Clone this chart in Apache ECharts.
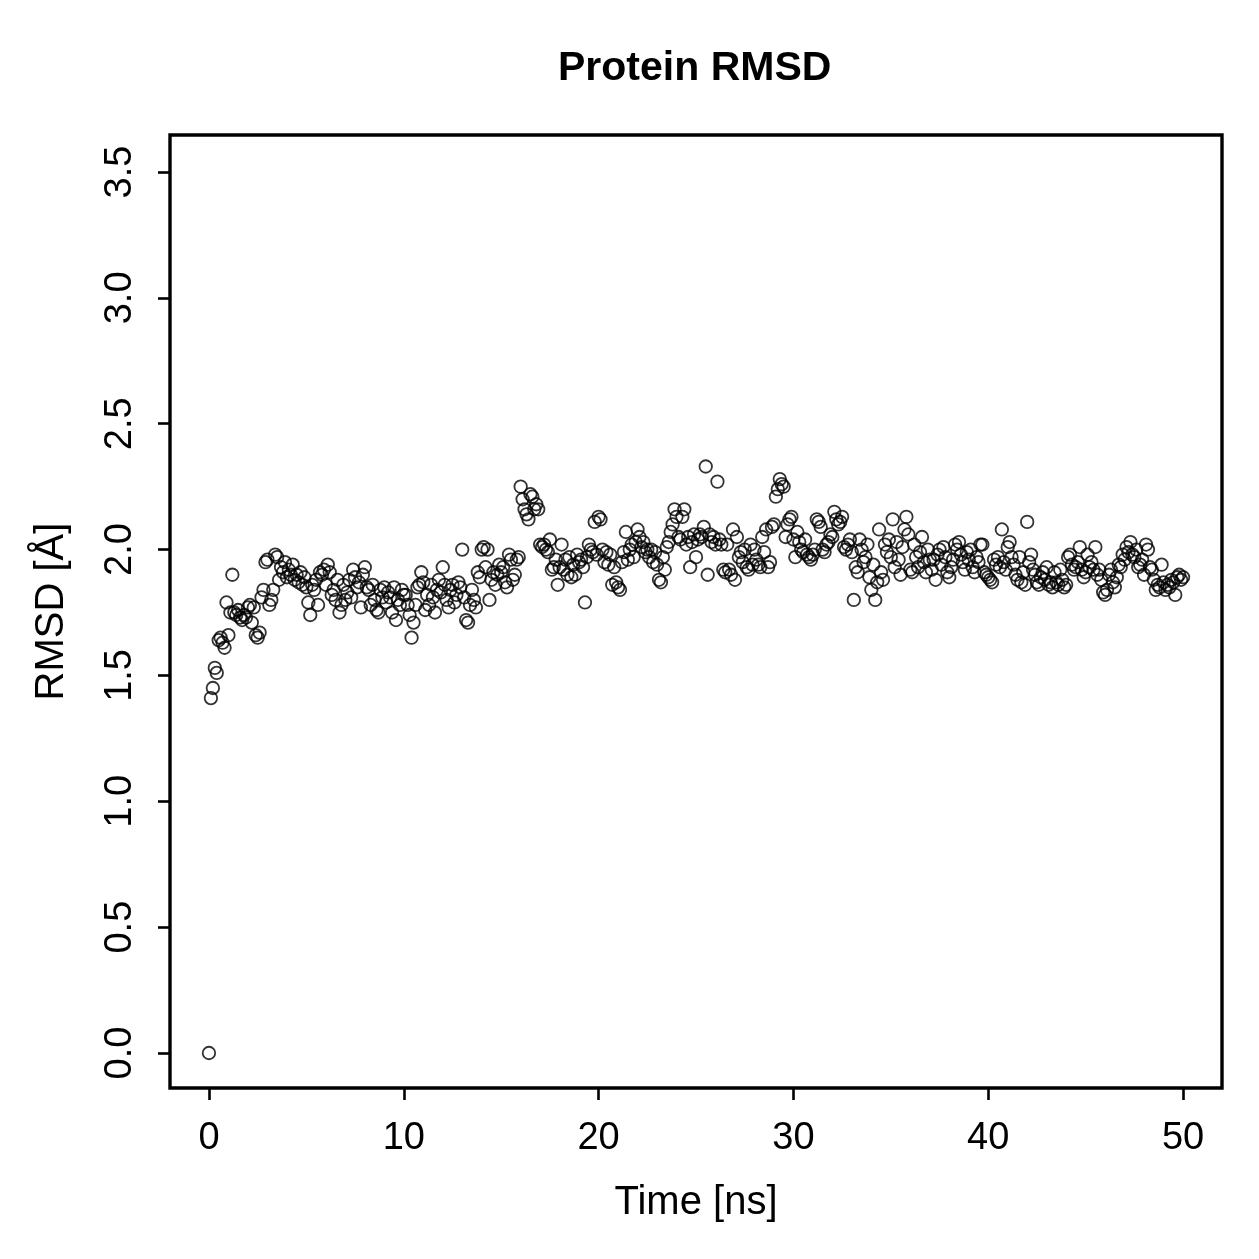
<!DOCTYPE html>
<html>
<head>
<meta charset="utf-8">
<script src="https://cdn.jsdelivr.net/npm/echarts@6/dist/echarts.min.js"></script>
<style>html,body{margin:0;padding:0;background:#fff}#c{width:1259px;height:1259px}</style>
</head>
<body>
<div id="c"></div>
<script>
// Time step (ns) between frames
var timeStep = 0.1;
var xTicks = [0, 10, 20, 30, 40, 50];
var yTicks = [0, 0.5, 1.0, 1.5, 2.0, 2.5, 3.0, 3.5];
// RMSD values (Å), frame 0 then ten frames per ns
var rmsd0 = [0.00];
var rmsd_00_05 = [
  1.41,1.45,1.53,1.51,1.64,1.65,1.63,1.61,1.79,1.66,
  1.75,1.90,1.75,1.74,1.76,1.73,1.72,1.74,1.73,1.77,
  1.78,1.71,1.77,1.66,1.65,1.67,1.81,1.84,1.95,1.96,
  1.78,1.80,1.84,1.98,1.97,1.88,1.93,1.91,1.95,1.89,
  1.92,1.90,1.94,1.88,1.90,1.87,1.91,1.86,1.89,1.85
];
var rmsd_05_10 = [
  1.79,1.74,1.86,1.84,1.88,1.78,1.91,1.90,1.92,1.86,
  1.94,1.91,1.82,1.84,1.80,1.88,1.75,1.78,1.86,1.80,
  1.83,1.88,1.81,1.92,1.89,1.85,1.87,1.77,1.90,1.93,
  1.85,1.84,1.78,1.86,1.80,1.76,1.75,1.84,1.81,1.85,
  1.79,1.83,1.81,1.75,1.85,1.72,1.80,1.78,1.84,1.82
];
var rmsd_10_15 = [
  1.82,1.78,1.74,1.65,1.71,1.78,1.85,1.86,1.91,1.87,
  1.76,1.82,1.78,1.86,1.81,1.75,1.84,1.88,1.83,1.93,
  1.86,1.80,1.77,1.84,1.86,1.79,1.82,1.87,1.85,2.00,
  1.81,1.72,1.71,1.78,1.84,1.80,1.77,1.91,1.89,2.00,
  2.01,1.93,2.00,1.80,1.88,1.91,1.86,1.90,1.94,1.91
];
var rmsd_15_20 = [
  1.93,1.87,1.85,1.98,1.96,1.88,1.90,1.96,1.97,2.25,
  2.20,2.16,2.14,2.12,2.22,2.21,2.16,2.18,2.16,2.02,
  2.01,2.02,2.00,1.99,2.04,1.92,1.93,1.96,1.86,1.93,
  2.02,1.92,1.96,1.90,1.97,1.89,1.94,1.90,1.98,1.95,
  1.96,1.93,1.79,1.97,2.02,2.00,1.99,2.11,1.98,2.13
];
var rmsd_20_25 = [
  2.12,2.00,1.95,1.99,1.94,1.98,1.86,1.93,1.87,1.85,
  1.84,1.95,1.99,2.07,1.96,2.00,2.02,1.97,2.03,2.08,
  2.05,2.01,2.03,1.99,2.00,1.97,2.00,1.95,1.99,1.94,
  1.88,1.87,1.97,1.92,2.01,2.03,2.07,2.10,2.16,2.13,
  2.05,2.04,2.13,2.16,2.02,2.05,1.93,2.03,2.06,1.97
];
var rmsd_25_30 = [
  2.04,2.06,2.05,2.09,2.33,1.90,2.06,2.03,2.05,2.02,
  2.27,2.04,2.02,1.92,1.91,2.02,1.92,1.90,2.08,1.88,
  2.05,1.97,1.99,1.95,2.00,1.93,1.92,2.02,1.94,2.00,
  1.96,1.94,1.93,2.05,1.99,2.08,1.93,1.95,2.09,2.10,
  2.21,2.24,2.28,2.26,2.25,2.05,2.10,2.12,2.13,2.04
];
var rmsd_30_35 = [
  1.97,2.07,2.03,2.00,1.99,2.04,1.98,1.97,1.96,1.98,
  2.00,2.12,2.11,2.09,2.00,1.99,2.02,2.03,2.06,2.05,
  2.15,2.12,2.10,2.11,2.13,2.01,2.00,2.02,2.04,1.99,
  1.80,1.93,1.91,2.04,2.00,1.95,1.97,2.02,1.89,1.84,
  1.94,1.80,1.87,2.08,1.91,1.88,2.02,1.99,2.04,1.97
];
var rmsd_35_40 = [
  2.12,1.93,2.03,1.96,1.90,2.01,2.08,2.13,2.06,1.92,
  1.91,2.02,1.97,1.93,1.99,2.05,1.95,1.91,2.00,1.96,
  1.92,1.96,1.88,1.98,2.00,1.94,2.01,1.97,1.91,1.89,
  1.93,1.96,2.02,2.00,2.03,1.98,1.95,1.92,1.99,1.96,
  2.00,1.93,1.91,1.97,1.95,2.02,2.02,1.91,1.90,1.89
];
var rmsd_40_45 = [
  1.88,1.87,1.96,1.94,1.97,1.93,2.08,1.95,1.92,2.01,
  2.03,1.97,1.94,1.90,1.88,1.97,1.87,1.91,1.86,2.11,
  1.95,1.98,1.92,1.90,1.87,1.86,1.89,1.91,1.88,1.93,
  1.86,1.87,1.85,1.91,1.87,1.86,1.92,1.88,1.85,1.86,
  1.97,1.98,1.94,1.92,1.93,1.95,2.01,1.92,1.89,1.91
];
var rmsd_45_50 = [
  1.98,1.93,1.95,1.92,2.01,1.90,1.92,1.88,1.83,1.82,
  1.84,1.90,1.92,1.87,1.85,1.89,1.94,1.93,1.98,1.96,
  2.01,1.99,2.03,1.98,1.97,2.00,1.93,1.94,1.96,1.90,
  2.02,2.00,1.93,1.92,1.88,1.84,1.86,1.85,1.94,1.87,
  1.84,1.86,1.85,1.88,1.87,1.82,1.89,1.90,1.88,1.89
];

var rmsd = [].concat(rmsd0, rmsd_00_05, rmsd_05_10, rmsd_10_15, rmsd_15_20,
  rmsd_20_25, rmsd_25_30, rmsd_30_35, rmsd_35_40, rmsd_40_45, rmsd_45_50);
var points = rmsd.map(function (v, i) { return [+(i * timeStep).toFixed(1), v]; });

var FONT = '"Liberation Sans", Arial, Helvetica, sans-serif';
var chart = echarts.init(document.getElementById('c'), null, {renderer: 'canvas'});
chart.setOption({
  backgroundColor: '#fff',
  animation: false,
  graphic: [{
    type: 'text', left: 696 - 138, top: 48, silent: true,
    style: {text: 'Protein RMSD', x: 0, y: 0, fill: '#000',
      font: 'bold 41px ' + FONT}
  }],
  grid: {
    left: 170, right: 37, top: 135, bottom: 171,
    show: true, borderColor: '#000', borderWidth: 3.4, backgroundColor: 'transparent'
  },
  xAxis: {
    type: 'value', min: -2, max: 52,
    name: 'Time [ns]', nameLocation: 'middle', nameGap: 95,
    nameTextStyle: {fontFamily: FONT, fontSize: 40, color: '#000'},
    axisLine: {show: false, onZero: false},
    splitLine: {show: false},
    axisTick: {show: true, inside: false, length: 12, customValues: xTicks,
      lineStyle: {color: '#000', width: 2.6}},
    axisLabel: {show: true, customValues: xTicks, margin: 32,
      fontFamily: FONT, fontSize: 38, color: '#000'}
  },
  yAxis: {
    type: 'value', min: -0.139, max: 3.647,
    name: 'RMSD [Å]', nameLocation: 'middle', nameGap: 98, nameRotate: 90,
    nameTextStyle: {fontFamily: FONT, fontSize: 40, color: '#000'},
    axisLine: {show: false, onZero: false},
    splitLine: {show: false},
    axisTick: {show: true, inside: false, length: 12, customValues: yTicks,
      lineStyle: {color: '#000', width: 2.6}},
    axisLabel: {show: true, customValues: yTicks, rotate: 90, margin: 30,
      fontFamily: FONT, fontSize: 38, color: '#000',
      formatter: function (v) { return v.toFixed(1); }}
  },
  series: [{
    type: 'scatter',
    data: points,
    symbol: 'circle',
    symbolSize: 12.5,
    itemStyle: {color: 'rgba(0,0,0,0)', borderColor: '#000', borderWidth: 1.8},
    emphasis: {disabled: true}
  }]
});
</script>
</body>
</html>
